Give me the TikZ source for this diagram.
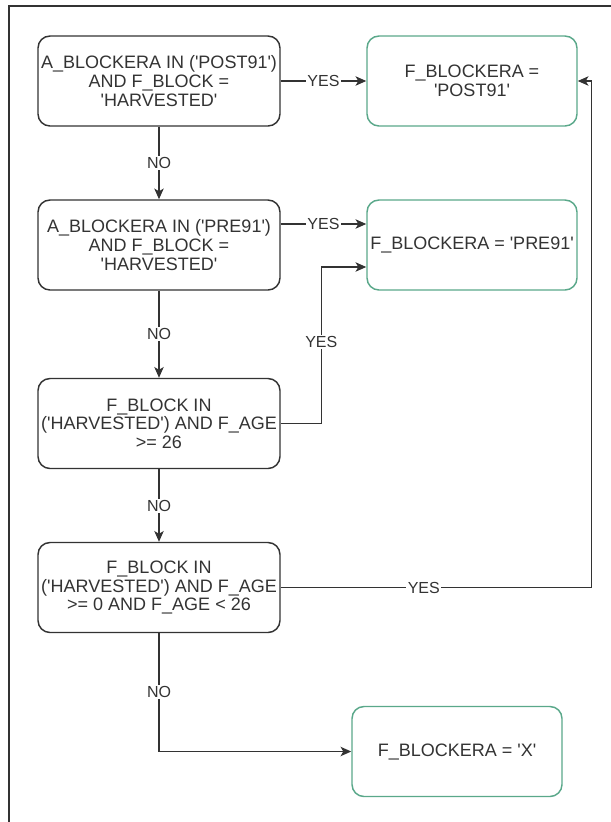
\documentclass[tikz,border=0pt]{standalone}
\usepackage{fontspec}
\setmainfont{Liberation Sans}
\usetikzlibrary{arrows.meta,calc}
\definecolor{darkline}{HTML}{333333}
\definecolor{endgreen}{HTML}{5AA88A}
\newcommand{\qt}{\textquotesingle}

\begin{document}
\begin{tikzpicture}[x=0.75pt,y=-0.75pt,
		test/.style={draw=darkline,line width=1.1pt,rounded corners=9pt,fill=white,
			minimum width=181.5pt,minimum height=67.5pt,inner sep=1pt,align=center,
			font=\fontsize{13.5}{14}\selectfont,text=darkline},
		result/.style={test,draw=endgreen,minimum width=157.5pt},
		flow/.style={darkline,line width=1.1pt,-{Stealth[length=8pt,width=7pt,inset=2pt]}},
		lbl/.style={fill=white,inner sep=1pt,font=\fontsize{12}{12}\selectfont,text=darkline}]
	\useasboundingbox (0,0) rectangle (611,822);
	% frame
	\draw[darkline,line width=1.5pt] (9,822) -- (9,6) -- (611,6);
	% tests on the left
	\node[test] (c1) at (159,81) {A\_BLOCKERA IN (\qt POST91\qt)\\AND F\_BLOCK =\\\qt HARVESTED\qt};
	\node[test] (c2) at (159,245) {A\_BLOCKERA IN (\qt PRE91\qt)\\AND F\_BLOCK =\\\qt HARVESTED\qt};
	\node[test] (c3) at (159,423.5) {F\_BLOCK IN\\(\qt HARVESTED\qt) AND F\_AGE\\>= 26};
	\node[test] (c4) at (159,587.5) {F\_BLOCK IN\\(\qt HARVESTED\qt) AND F\_AGE\\>= 0 AND F\_AGE < 26};
	% results
	\node[result] (p1) at (472,81) {F\_BLOCKERA =\\\qt POST91\qt};
	\node[result] (p2) at (472,245) {F\_BLOCKERA = \qt PRE91\qt};
	\node[result] (px) at (457,751.5) {F\_BLOCKERA = \qt X\qt};
	% yes
	\draw[flow] (c1.east) -- node[lbl] {YES} (p1.west);
	\draw[flow] ($(c2.east)+(0,-21)$) -- node[lbl] {YES} ($(p2.west)+(0,-21)$);
	\draw[flow] (c3.east) -| node[lbl,pos=0.76] {YES} ($(p2.west)+(-45,22)$) -- ($(p2.west)+(0,22)$);
	\draw[flow] (c4.east) -| node[lbl,pos=0.23] {YES} ($(p1.east)+(14,0)$) -- (p1.east);
	% no
	\draw[flow] (c1.south) -- node[lbl] {NO} (c2.north);
	\draw[flow] (c2.south) -- node[lbl] {NO} (c3.north);
	\draw[flow] (c3.south) -- node[lbl] {NO} (c4.north);
	\draw[flow] (c4.south) |- node[lbl,pos=0.25] {NO} (px.west);
\end{tikzpicture}
\end{document}
